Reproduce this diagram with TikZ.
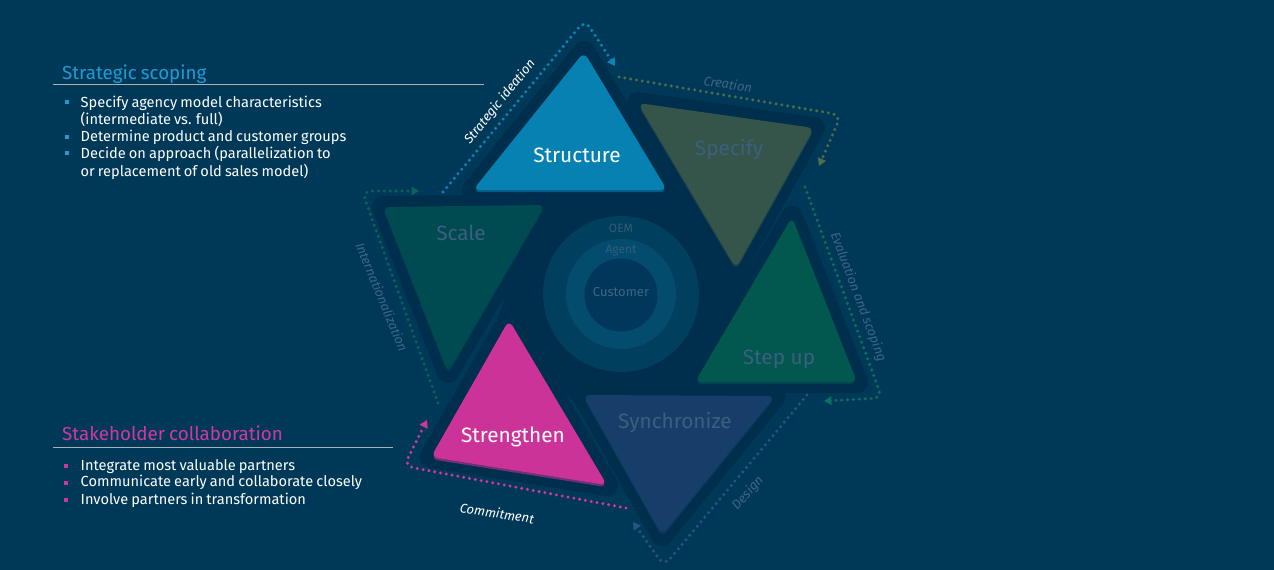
\documentclass[tikz,border=0pt]{standalone}
\usepackage{fontspec}
\setmainfont{Fira Sans}[WordSpace=0.8]
\newfontfamily\labelfont{Fira Sans}
\usetikzlibrary{arrows.meta}
\definecolor{bg}{HTML}{003958}
\definecolor{halo}{HTML}{002F4D}
\definecolor{cStructure}{HTML}{0780B2}
\definecolor{cSpecify}{HTML}{35554A}
\definecolor{cStepup}{HTML}{02574F}
\definecolor{cSync}{HTML}{163E69}
\definecolor{cStrength}{HTML}{CC3399}
\definecolor{cScale}{HTML}{004A52}
\definecolor{faded}{HTML}{3B5F7E}
\definecolor{pathtext}{HTML}{3E6684}
\definecolor{ringOuter}{HTML}{013F5F}
\definecolor{ringMid}{HTML}{034C6D}
\definecolor{ringInner}{HTML}{00375A}
\definecolor{scopeblue}{HTML}{1E9BD2}
\definecolor{cMag}{HTML}{D0399B}
\definecolor{rulegray}{HTML}{A8B0B8}
\definecolor{dStrat}{HTML}{0A84BA}
\definecolor{dCreat}{HTML}{506C48}
\definecolor{dEval}{HTML}{0A7060}
\definecolor{dDesign}{HTML}{2C5282}
\definecolor{dCommit}{HTML}{D0369C}
\definecolor{dIntl}{HTML}{0B625C}
\newcommand\mytri[4]{%
  \fill[#4!55!halo, rounded corners=7pt, transform canvas={yshift=-2.2pt}] (#1)--(#2)--(#3)--cycle;
  \fill[#4, rounded corners=7pt] (#1)--(#2)--(#3)--cycle;}
\newcommand\myhalo[3]{%
  \filldraw[halo, line width=22pt, line join=round] (#1)--(#2)--(#3)--cycle;}
\tikzset{
  titletext/.style={anchor=base west, inner sep=0pt, font=\fontsize{18.8}{21}\selectfont},
  itemtext/.style={anchor=base west, inner sep=0pt, text=white, font=\fontsize{14.6}{17}\selectfont},
  bul/.style={fill=#1, minimum size=3.8pt, inner sep=0pt},
  trilabel/.style={font=\labelfont\fontsize{20.8}{24}\selectfont},
  pathlabel/.style={font=\labelfont\itshape\fontsize{13}{15}\selectfont},
  dots/.style={line width=3.3pt, line cap=round, dash pattern=on 0pt off 5.9pt,
    rounded corners=9pt, -{Triangle[length=7.5pt,width=8.5pt]}},
  rulestyle/.style={rulegray, line width=0.8pt},
  ringlabel/.style={font=\labelfont\fontsize{12}{14}\selectfont},
}
\begin{document}
\begin{tikzpicture}[x=1pt,y=-1pt]
\fill[bg] (0,0) rectangle (1274,570);
\useasboundingbox (0,0) rectangle (1274,570);

% triangle corners
\coordinate (stA) at (584,52);  \coordinate (stB) at (667,190); \coordinate (stC) at (473,190);
\coordinate (spA) at (638,103); \coordinate (spB) at (814,128); \coordinate (spC) at (736,268);
\coordinate (suA) at (792,217); \coordinate (suB) at (857,382); \coordinate (suC) at (695,382);
\coordinate (syA) at (583,395); \coordinate (syB) at (775,396); \coordinate (syC) at (662,535);
\coordinate (sgA) at (509,320); \coordinate (sgB) at (607,485); \coordinate (sgC) at (431,457);
\coordinate (scA) at (383,207); \coordinate (scB) at (545,205); \coordinate (scC) at (448,372);

% dark halo
\myhalo{stA}{stB}{stC}
\myhalo{spA}{spB}{spC}
\myhalo{suA}{suB}{suC}
\myhalo{syA}{syB}{syC}
\myhalo{sgA}{sgB}{sgC}
\myhalo{scA}{scB}{scC}
\filldraw[halo, line width=22pt, line join=round] (scB)--(stB)--(spC)--(suC)--(syA)--(sgA)--cycle;

% rings
\node[circle, fill=ringOuter, minimum size=156pt, inner sep=0pt] (ring1) at (621,294) {};
\node[circle, fill=ringMid, minimum size=110pt, inner sep=0pt] (ring2) at (621,294) {};
\node[circle, fill=ringInner, minimum size=73pt, inner sep=0pt] (ring3) at (621,295) {};
\node[ringlabel, text=faded!85!ringOuter] (oem) at (621,228) {OEM};
\node[ringlabel, text=faded!85!ringMid] (agent) at (621,250.5) {Agent};
\node[font=\labelfont\fontsize{13}{15}\selectfont, text=pathtext] (cust) at (621,292) {Customer};

% triangles
\mytri{stA}{stB}{stC}{cStructure}
\mytri{spA}{spB}{spC}{cSpecify}
\mytri{suA}{suB}{suC}{cStepup}
\mytri{syA}{syB}{syC}{cSync}
\mytri{sgA}{sgB}{sgC}{cStrength}
\mytri{scA}{scB}{scC}{cScale}

\node[trilabel, text=white] (lStructure) at (577,155) {Structure};
\node[trilabel, text=faded] (lSpecify) at (729,150) {Specify};
\node[trilabel, text=faded] (lStepup) at (779,359) {Step up};
\node[trilabel, text=faded] (lSync) at (675,423) {Synchronize};
\node[trilabel, text=white] (lStrength) at (513,437) {Strengthen};
\node[trilabel, text=faded] (lScale) at (461,233) {Scale};

% dotted cycle paths
\coordinate (pS1) at (443,192); \coordinate (pS2) at (585,20);  \coordinate (pS3) at (615,66);
\coordinate (pC1) at (619,77);  \coordinate (pC2) at (841,115); \coordinate (pC3) at (819,166);
\coordinate (pE1) at (805,187); \coordinate (pE2) at (882,398); \coordinate (pE3) at (824,401);
\coordinate (pD1) at (807,395); \coordinate (pD2) at (664,566); \coordinate (pD3) at (633,522);
\coordinate (pM1) at (626,508); \coordinate (pM2) at (404,466); \coordinate (pM3) at (427,420);
\coordinate (pI1) at (438,403); \coordinate (pI2) at (362,191); \coordinate (pI3) at (419,191);
\draw[dots, dStrat]  (pS1) -- (pS2) -- (pS3);
\draw[dots, dCreat]  (pC1) -- (pC2) -- (pC3);
\draw[dots, dEval]   (pE1) -- (pE2) -- (pE3);
\draw[dots, dDesign] (pD1) -- (pD2) -- (pD3);
\draw[dots, dCommit] (pM1) -- (pM2) -- (pM3);
\draw[dots, dIntl]   (pI1) -- (pI2) -- (pI3);

\node[pathlabel, text=white, rotate=51] (lbStrat) at (500,102) {Strategic ideation};
\node[pathlabel, text=pathtext, rotate=-9] (lbCreat) at (728,84) {Creation};
\node[pathlabel, text=pathtext, rotate=-69.5] (lbEval) at (858,297) {Evaluation and scoping};
\node[pathlabel, text=pathtext, rotate=48] (lbDesign) at (748,493) {Design};
\node[pathlabel, text=white, rotate=-9] (lbCommit) at (497,513) {Commitment};
\node[pathlabel, text=pathtext, rotate=-67.6] (lbIntl) at (382,297) {Internationalization};

% left text: strategic scoping
\node[titletext, text=scopeblue] (ssTitle) at (62,79.3) {Strategic scoping};
\coordinate (ssR1) at (53,84.5); \coordinate (ssR2) at (484,84.5);
\draw[rulestyle] (ssR1) -- (ssR2);
\node[bul=scopeblue] (ssB1) at (66.6,102.3) {};
\node[bul=scopeblue] (ssB2) at (66.6,136.7) {};
\node[bul=scopeblue] (ssB3) at (66.6,153.3) {};
\node[itemtext] (ss1) at (80.5,107.3) {Specify agency model characteristics};
\node[itemtext] (ss2) at (80.5,124.3) {(intermediate vs. full)};
\node[itemtext] (ss3) at (80.5,141.7) {Determine product and customer groups};
\node[itemtext] (ss4) at (80.5,158.5) {Decide on approach (parallelization to};
\node[itemtext] (ss5) at (80.5,176) {or replacement of old sales model)};

% left text: stakeholder collaboration
\node[titletext, text=cMag] (scTitle) at (62,440) {Stakeholder collaboration};
\coordinate (scR1) at (53,447); \coordinate (scR2) at (393,447);
\draw[rulestyle] (scR1) -- (scR2);
\node[bul=cMag] (scB1) at (65.7,466) {};
\node[bul=cMag] (scB2) at (65.7,482.7) {};
\node[bul=cMag] (scB3) at (65.7,500.3) {};
\node[itemtext] (sc1) at (80.5,470) {Integrate most valuable partners};
\node[itemtext] (sc2) at (80.5,486.7) {Communicate early and collaborate closely};
\node[itemtext] (sc3) at (80.5,504.3) {Involve partners in transformation};
\end{tikzpicture}
\end{document}
